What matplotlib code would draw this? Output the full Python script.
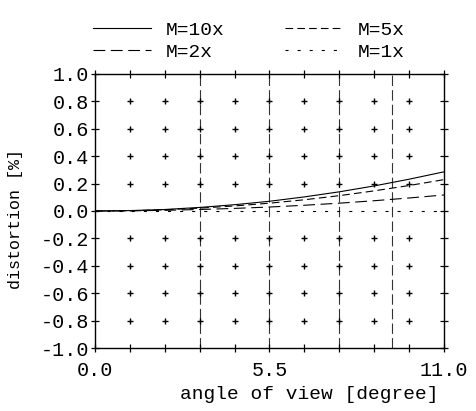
import matplotlib
matplotlib.use("Agg")
import matplotlib.pyplot as plt
import numpy as np

plt.rcParams['font.family'] = ['Liberation Mono', 'DejaVu Sans Mono']
plt.rcParams['lines.scale_dashes'] = False

# data
angle = [0.0, 1.1, 2.2, 3.3, 4.4, 5.5, 6.6, 7.7, 8.8, 9.9, 11.0]
m10 = [0.0, 0.003, 0.011, 0.026, 0.046, 0.071, 0.103, 0.140, 0.183, 0.232, 0.286]
m5 = [0.0, 0.002, 0.009, 0.021, 0.037, 0.057, 0.082, 0.112, 0.147, 0.186, 0.229]
m2 = [0.0, 0.001, 0.005, 0.011, 0.019, 0.029, 0.042, 0.057, 0.075, 0.095, 0.117]
m1 = [0.0, 0.0, 0.0, 0.0, 0.0, 0.0, 0.0, 0.0, 0.0, 0.0, 0.0]
labels = ["M=10x", "M=2x", "M=5x", "M=1x"]
field_lines = [3.3, 5.5, 7.7, 9.35]
grid_x = [1.1, 2.2, 3.3, 4.4, 5.5, 6.6, 7.7, 8.8, 9.9]
grid_y = [-0.8, -0.6, -0.4, -0.2, 0.2, 0.4, 0.6, 0.8]
ytick_vals = [-1.0, -0.8, -0.6, -0.4, -0.2, 0.0, 0.2, 0.4, 0.6, 0.8, 1.0]
ytick_labels = ["-1.0", "-0.8", "-0.6", "-0.4", "-0.2", "0.0", "0.2", "0.4", "0.6", "0.8", "1.0"]
xtick_labels = ["0.0", "", "", "", "", "5.5", "", "", "", "", "11.0"]

fig = plt.figure(figsize=(4.77, 4.11), dpi=100)
ax = fig.add_axes([95/477, 63/411, 349/477, 274/411])

# field boundary dashed verticals
for xv in field_lines:
    ax.plot([xv, xv], [-1, 1], color='#333333', lw=0.8, ls=(0, (7.5, 3)), zorder=1)

# plus grid
gx, gy = np.meshgrid(grid_x, grid_y)
ax.scatter(gx.ravel(), gy.ravel(), marker='+', s=24, color='black', linewidths=1.0, zorder=2)

l10, = ax.plot(angle, m10, color='black', lw=0.8, ls='-')
l5, = ax.plot(angle, m5, color='black', lw=0.8, ls=(0, (5.5, 3)))
l2, = ax.plot(angle, m2, color='black', lw=0.8, ls=(0, (8.5, 4)))
l1, = ax.plot(angle, m1, color='black', lw=0.8, ls=(0, (2.2, 6.5)))

ax.set_xlim(0, 11)
ax.set_ylim(-1, 1)
ax.set_xticks(np.arange(11) * 1.1)
ax.set_xticklabels(xtick_labels)
ax.set_yticks(ytick_vals)
ax.set_yticklabels(ytick_labels)
ax.tick_params(direction='inout', length=6, width=0.9, top=True, right=True,
               labelsize=14.5, colors='black')
ax.tick_params(axis='x', pad=6)
ax.tick_params(axis='y', pad=1)
for s in ax.spines.values():
    s.set_linewidth(1.0)

ax.set_xlabel("angle of view [degree]", fontsize=14)
ax.xaxis.set_label_coords(0.613, -0.14)
ax.set_ylabel("distortion [%]", fontsize=12)
ax.yaxis.set_label_coords(-0.205, 0.47)

fig.legend([l10, l2, l5, l1], labels, ncol=2, frameon=False,
           loc='upper left', bbox_to_anchor=(93/477, 1 - 21/411),
           fontsize=14, handlelength=3.0, handletextpad=0.75,
           columnspacing=3.1, labelspacing=0.25, borderaxespad=0, borderpad=0)

fig.savefig("out.png", dpi=100)
